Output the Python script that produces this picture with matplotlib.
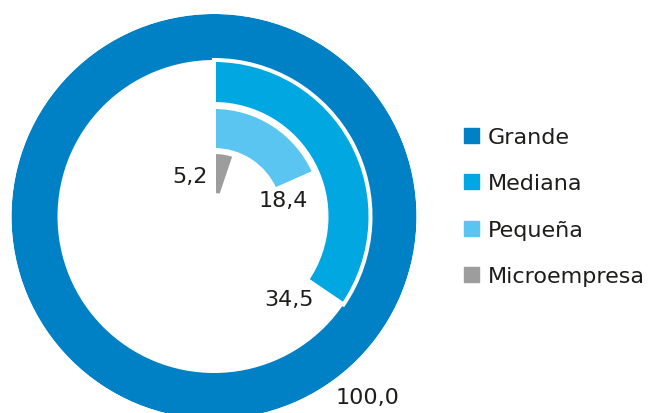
import numpy as np
import matplotlib
matplotlib.use("Agg")
import matplotlib.pyplot as plt
from matplotlib.patches import Rectangle

# Share of companies by size (%)
categories = ["Grande", "Mediana", "Pequeña", "Microempresa"]
values = [100.0, 34.5, 18.4, 5.2]
colors = ["#0081C6", "#00A7E1", "#5BC5F2", "#9D9D9D"]

W, H = 664, 414
fig = plt.figure(figsize=(W / 100, H / 100), dpi=100)
fig.patch.set_facecolor("white")

# Polar axes laid out in pixel units: centre (cx, cy from top), outer radius R
cx, cy, R = 214.0, 217.5, 202.5
ax = fig.add_axes([(cx - R) / W, (H - cy - R) / H, 2 * R / W, 2 * R / H],
                  projection="polar")
ax.set_theta_zero_location("N")
ax.set_theta_direction(-1)
ax.set_ylim(0, R)
ax.axis("off")

# ring radii (inner, outer) in pixels, outermost ring first
rings = [(156.5, 202.5), (112.5, 156.5), (66.5, 109.5), (21.5, 64.5)]
edge_lw = 4 * 72 / 100  # 4 px white separator

for i, (v, c, (r0, r1)) in enumerate(zip(values, colors, rings)):
    span = 2 * np.pi * v / 100.0
    if i == 0:
        ax.bar(0, r1 - r0, width=span, bottom=r0, align="edge",
               color=c, edgecolor="none", linewidth=0)
    else:
        ax.bar(0, r1 - r0, width=span, bottom=r0, align="edge",
               color=c, edgecolor="white", linewidth=edge_lw)

# value labels (centre x, baseline y in pixels from top)
label_pos = [(368, 404), (289, 306), (283.5, 207), (189.5, 183)]
txt_color = "#1d1d1b"
for v, (x, y) in zip(values, label_pos):
    fig.text(x / W, (H - y) / H, f"{v:.1f}".replace(".", ","),
             ha="center", va="baseline", fontsize=16, color=txt_color,
             family="DejaVu Sans")

# legend
sq = 15
for i, (name, c) in enumerate(zip(categories, colors)):
    base = 144 + i * 46.3
    fig.patches.append(Rectangle(((464) / W, (H - base) / H), sq / W, sq / H,
                                 transform=fig.transFigure, color=c,
                                 figure=fig))
    fig.text(488 / W, (H - base) / H, name, ha="left", va="baseline",
             fontsize=16, color=txt_color, family="DejaVu Sans")

fig.savefig("out.png", dpi=100)
